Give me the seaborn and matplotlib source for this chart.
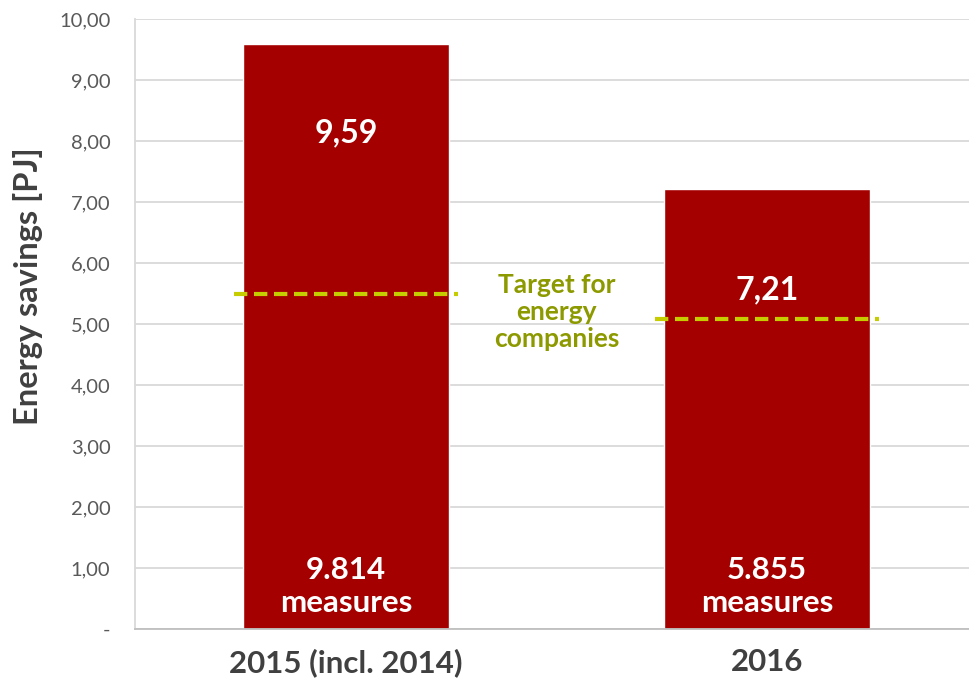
import matplotlib
matplotlib.use("Agg")
import matplotlib.pyplot as plt
import seaborn as sns
import pandas as pd

# Data
categories = ["2015 (incl. 2014)", "2016"]
savings = [9.59, 7.21]
value_labels = ["9,59", "7,21"]
measures = ["9.814\nmeasures", "5.855\nmeasures"]
targets = [5.49, 5.08]
yticks = [0, 1, 2, 3, 4, 5, 6, 7, 8, 9, 10]
ytick_labels = ["-", "1,00", "2,00", "3,00", "4,00", "5,00",
                "6,00", "7,00", "8,00", "9,00", "10,00"]

df = pd.DataFrame({"year": categories, "savings": savings})

sns.set_style("white")
plt.rcParams["font.family"] = ["Lato", "DejaVu Sans"]

fig = plt.figure(figsize=(9.69, 6.79), dpi=100)
ax = fig.add_axes([0.1398, 0.0736, 0.869, 0.8984])

sns.barplot(data=df, x="year", y="savings", color="#A50000",
            saturation=1, width=0.49, ax=ax, zorder=2)

# Target lines
for i, t in enumerate(targets):
    ax.hlines(t, i - 0.265, i + 0.265, colors="#C5CC00", linestyles=(0, (3.2, 1.6)),
              linewidth=3, zorder=3)

# Labels inside bars (drop from bar top)
label_drop = [1.46, 1.65]
for i, (v, lab, m) in enumerate(zip(savings, value_labels, measures)):
    ax.text(i, v - label_drop[i], lab, ha="center", va="center", color="white",
            fontsize=23, fontweight="bold", zorder=4)
    ax.text(i, 0.70, m, ha="center", va="center", color="white",
            fontsize=22.5, fontweight="bold", linespacing=1.2, zorder=4)

ax.text(0.5, 5.2, "Target for\nenergy\ncompanies", ha="center", va="center",
        color="#8C9A00", fontsize=19, fontweight="bold", linespacing=1.15, zorder=4)

ax.set_ylim(0, 10)
ax.set_xlim(-0.5, 1.5)
ax.set_yticks(yticks)
ax.set_yticklabels(ytick_labels, color="#595959", fontsize=14.5)
ax.yaxis.grid(True, color="#D9D9D9", linewidth=1.3, zorder=0)
ax.set_axisbelow(True)
ax.tick_params(axis="y", length=0, pad=18)
ax.tick_params(axis="x", length=0, pad=14, labelsize=22.5, labelcolor="#404040")
for lab in ax.get_xticklabels():
    lab.set_fontweight("bold")

ax.set_xlabel("")
ax.set_ylabel("Energy savings [PJ]", fontsize=23.5, fontweight="bold",
              color="#404040")
ax.yaxis.set_label_coords(-0.11, 0.562)

for s in ["top", "right"]:
    ax.spines[s].set_visible(False)
ax.spines["left"].set_color("#D9D9D9")
ax.spines["bottom"].set_color("#BFBFBF")
ax.spines["left"].set_linewidth(1.3)
ax.spines["bottom"].set_linewidth(1.3)

fig.savefig("out.png", dpi=100)
